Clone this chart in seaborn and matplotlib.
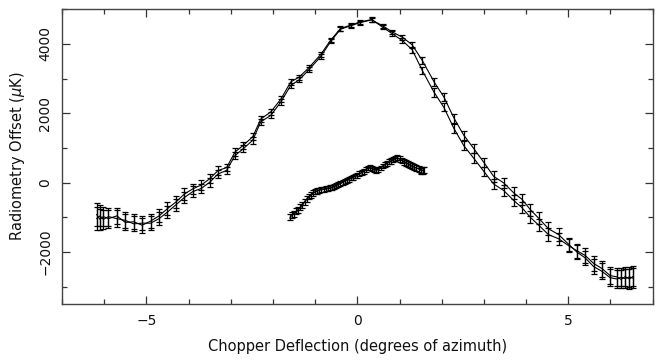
import matplotlib
matplotlib.use("Agg")
import matplotlib.pyplot as plt
import numpy as np
import pandas as pd
import seaborn as sns
from matplotlib.ticker import MultipleLocator

sns.set_style("ticks")
plt.rcParams["font.family"] = ["DejaVu Sans"]

# wide chopper scan (two passes), degrees of azimuth / micro-K
scan_x = [-6.18, -6.10, -6.02, -5.90, -5.70, -5.50, -5.30, -5.10, -4.90, -4.70,
          -4.50, -4.30, -4.10, -3.90, -3.70, -3.50, -3.30, -3.10, -2.90, -2.70,
          -2.48, -2.29, -2.05, -1.81, -1.58, -1.38, -1.15, -0.87, -0.63, -0.40,
          -0.16, 0.06, 0.34, 0.60, 0.83, 1.07, 1.30, 1.54, 1.82, 2.05,
          2.29, 2.52, 2.76, 3.00, 3.23, 3.47, 3.71, 3.90, 4.10, 4.30,
          4.53, 4.77, 5.01, 5.21, 5.40, 5.60, 5.80, 5.99, 6.15, 6.25,
          6.35, 6.45, 6.54]
scan_a = [-920, -1060, -980, -1040, -960, -1150, -1130, -1230, -1110, -960,
          -750, -560, -330, -180, -70, 110, 350, 430, 880, 1080,
          1320, 1830, 2040, 2410, 2900, 3040, 3310, 3690, 4110, 4440,
          4540, 4630, 4700, 4480, 4290, 4090, 3830, 3230, 2600, 2170,
          1560, 1070, 700, 320, -40, -230, -520, -720, -1000, -1230,
          -1500, -1620, -1820, -1970, -2100, -2330, -2480, -2680, -2720, -2790,
          -2710, -2780, -2700]
scan_b = [-1040, -960, -1060, -980, -1040, -1090, -1190, -1170, -1170, -1040,
          -850, -640, -430, -260, -170, 10, 250, 350, 780, 980,
          1220, 1750, 1940, 2330, 2800, 2960, 3250, 3630, 4070, 4420,
          4520, 4610, 4690, 4520, 4340, 4190, 3970, 3520, 2900, 2470,
          1860, 1370, 980, 580, 180, -10, -300, -480, -780, -1030,
          -1330, -1500, -1780, -2010, -2170, -2420, -2560, -2740, -2780, -2730,
          -2770, -2720, -2760]
scan_err = [340, 300, 280, 260, 240, 230, 220, 210, 200, 190,
            180, 170, 160, 150, 140, 130, 120, 110, 110, 100,
            100, 90, 90, 80, 80, 70, 70, 70, 60, 60,
            60, 60, 60, 60, 70, 70, 80, 110, 120, 120,
            130, 130, 140, 140, 150, 150, 160, 160, 170, 170,
            180, 180, 190, 200, 210, 220, 230, 240, 250, 260,
            270, 280, 290]

# narrow chopper scan (two interleaved passes)
small_xa = [-1.60, -1.50, -1.40, -1.30, -1.20, -1.10, -1.00, -0.90, -0.80, -0.70, -0.60,
            -0.50, -0.40, -0.30, -0.20, -0.10, 0.00, 0.10, 0.20, 0.30, 0.40, 0.50,
            0.60, 0.70, 0.80, 0.90, 1.00, 1.10, 1.20, 1.30, 1.40, 1.50, 1.55]
small_xb = [-1.55, -1.45, -1.35, -1.25, -1.15, -1.05, -0.95, -0.85, -0.75, -0.65, -0.55,
            -0.45, -0.35, -0.25, -0.15, -0.05, 0.05, 0.15, 0.25, 0.35, 0.45, 0.55,
            0.65, 0.75, 0.85, 0.95, 1.05, 1.15, 1.25, 1.35, 1.45, 1.52, 1.57]
small_a = [-1000, -900, -790, -640, -480, -360, -260, -220, -200, -180, -150,
           -90, -30, 30, 100, 150, 210, 280, 380, 440, 380, 370,
           480, 560, 620, 690, 680, 600, 540, 470, 420, 370, 350]
small_b = [-930, -830, -700, -550, -400, -300, -250, -190, -170, -150, -110,
           -50, 10, 70, 130, 190, 250, 330, 420, 400, 350, 420,
           520, 600, 660, 720, 640, 570, 500, 440, 400, 340, 360]
small_err = [90, 90, 85, 85, 80, 80, 80, 75, 75, 75, 75,
             70, 70, 70, 70, 70, 70, 70, 70, 70, 70, 70,
             70, 70, 75, 75, 75, 80, 80, 85, 85, 90, 90]

fig = plt.figure(figsize=(6.57, 3.6), dpi=100)
ax = fig.add_axes([0.0944, 0.1556, 0.899, 0.819])

passes = [(scan_x, scan_a, scan_err), (scan_x, scan_b, scan_err),
          (small_xa, small_a, small_err), (small_xb, small_b, small_err)]
for xs, ys, es in passes:
    df = pd.DataFrame({"x": xs, "y": ys, "e": es})
    sns.lineplot(data=df, x="x", y="y", ax=ax, color="black", lw=0.8,
                 sort=False, estimator=None)
    ax.errorbar(df["x"], df["y"], yerr=df["e"], fmt="none", ecolor="black",
                elinewidth=0.9, capsize=2, capthick=0.9)

ax.set_xlim(-7, 7)
ax.set_ylim(-3500, 5000)
ax.xaxis.set_major_locator(MultipleLocator(5))
ax.xaxis.set_minor_locator(MultipleLocator(1))
ax.yaxis.set_major_locator(MultipleLocator(2000))
ax.yaxis.set_minor_locator(MultipleLocator(1000))
ax.tick_params(which="both", direction="in", top=True, right=True,
               color="#333333", labelsize=10, labelcolor="#111111")
ax.tick_params(which="major", length=6, width=0.9, pad=7)
ax.tick_params(which="minor", length=3.5, width=0.9)
for lab in ax.get_yticklabels():
    lab.set_rotation(90)
    lab.set_va("center")
for sp in ax.spines.values():
    sp.set_color("#444444")
    sp.set_linewidth(1.0)

ax.set_xlabel("Chopper Deflection (degrees of azimuth)", fontsize=10.5,
              color="#111111", labelpad=8)
ax.set_ylabel("Radiometry Offset ($\\mu$K)", fontsize=10.5, color="#111111",
              labelpad=8)

fig.savefig("out.png", dpi=100)
